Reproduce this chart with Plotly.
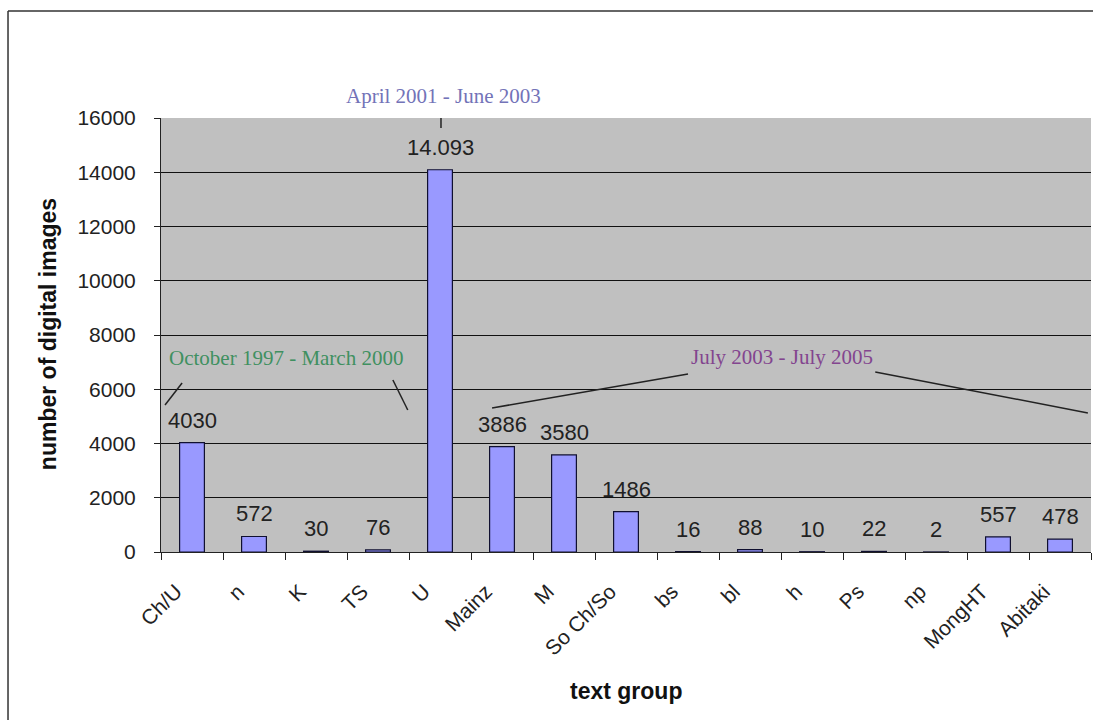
import plotly.graph_objects as go

categories = ["Ch/U", "n", "K", "TS", "U", "Mainz", "M", "So Ch/So", "bs", "bl",
              "h", "Ps", "np", "MongHT", "Abitaki"]
images = [4030, 572, 30, 76, 14093, 3886, 3580, 1486, 16, 88, 10, 22, 2, 557, 478]
value_labels = ["4030", "572", "30", "76", "14.093", "3886", "3580", "1486", "16", "88",
                "10", "22", "2", "557", "478"]
y_ticks = [0, 2000, 4000, 6000, 8000, 10000, 12000, 14000, 16000]
y_tick_labels = [str(v) for v in y_ticks]

period_labels = ["October 1997 - March 2000", "April 2001 - June 2003", "July 2003 - July 2005"]
period_colors = ["#3f9060", "#7373b8", "#83458f"]

SANS = "Liberation Sans, Arial, sans-serif"
SERIF = "Liberation Serif, Times New Roman, serif"

fig = go.Figure()
fig.add_trace(go.Bar(
    x=categories, y=images,
    marker=dict(color="#9999FF", line=dict(color="#101030", width=1.2)),
    hoverinfo="skip",
))

annotations = []
for c, v, t in zip(categories, images, value_labels):
    annotations.append(dict(x=c, y=v, xref="x", yref="y", text=t, showarrow=False,
                            yanchor="bottom", yshift=8,
                            font=dict(family=SANS, size=22, color="#222222")))

# period annotations (text), positioned in paper coordinates
period_pos = [(0.1339, 0.4470), (0.3043, 1.0507), (0.6677, 0.4493)]
for (px, py), t, col in zip(period_pos, period_labels, period_colors):
    annotations.append(dict(x=px, y=py, xref="paper", yref="paper", text=t, showarrow=False,
                            xanchor="center", yanchor="middle",
                            font=dict(family=SERIF, size=21, color=col)))

# axis titles
annotations.append(dict(x=0.5, y=-0.321, xref="paper", yref="paper", text="<b>text group</b>",
                        showarrow=False, xanchor="center", yanchor="middle",
                        font=dict(family=SANS, size=23, color="#111111")))
annotations.append(dict(x=-0.1215, y=0.502, xref="paper", yref="paper",
                        text="<b>number of digital images</b>", textangle=-90,
                        showarrow=False, xanchor="center", yanchor="middle",
                        font=dict(family=SANS, size=23, color="#111111")))

shapes = []
leader_lines = [
    (-0.16, 6230, -0.435, 5420),
    (3.24, 6340, 3.48, 5235),
    (4.016, 16370, 4.016, 15630),
    (4.84, 5310, 8.0, 6560),
    (11.02, 6640, 14.45, 5125),
]
for x0, y0, x1, y1 in leader_lines:
    shapes.append(dict(type="line", xref="x", yref="y", x0=x0, y0=y0, x1=x1, y1=y1,
                       line=dict(color="#222222", width=1.5)))

# outer chart border (left and top edges)
shapes.append(dict(type="line", xref="paper", yref="paper", x0=-0.1645, y0=-0.39,
                   x1=-0.1645, y1=1.2465, line=dict(color="#333333", width=1.5)))
shapes.append(dict(type="line", xref="paper", yref="paper", x0=-0.1645, y0=1.2465,
                   x1=1.01, y1=1.2465, line=dict(color="#333333", width=1.5)))

fig.update_layout(
    width=1093, height=720,
    margin=dict(l=161, r=2, t=118, b=168),
    paper_bgcolor="white",
    plot_bgcolor="#C0C0C0",
    bargap=0.6,
    showlegend=False,
    annotations=annotations,
    shapes=shapes,
    xaxis=dict(type="category", tickson="boundaries", ticks="outside", ticklen=7,
               tickcolor="#222222", tickwidth=1, showline=True, linecolor="#222222",
               linewidth=1, tickangle=-45, showgrid=False,
               ticklabelstandoff=18, ticklabelshift=-16,
               tickfont=dict(family=SANS, size=21, color="#222222"), automargin=False),
    yaxis=dict(range=[0, 16000], tickvals=y_ticks, ticktext=y_tick_labels, ticks="outside",
               ticklen=6, tickcolor="#222222", showline=True, linecolor="#222222",
               linewidth=1, showgrid=True, gridcolor="#111111", gridwidth=1, zeroline=False,
               tickfont=dict(family=SANS, size=21, color="#222222"),
               ticklabelstandoff=14, automargin=False),
)

fig.write_html(
    "out.html",
    config={"displayModeBar": False},
    post_script="document.body.style.margin='0';document.body.style.padding='0';"
                "document.body.style.overflow='hidden';",
)
